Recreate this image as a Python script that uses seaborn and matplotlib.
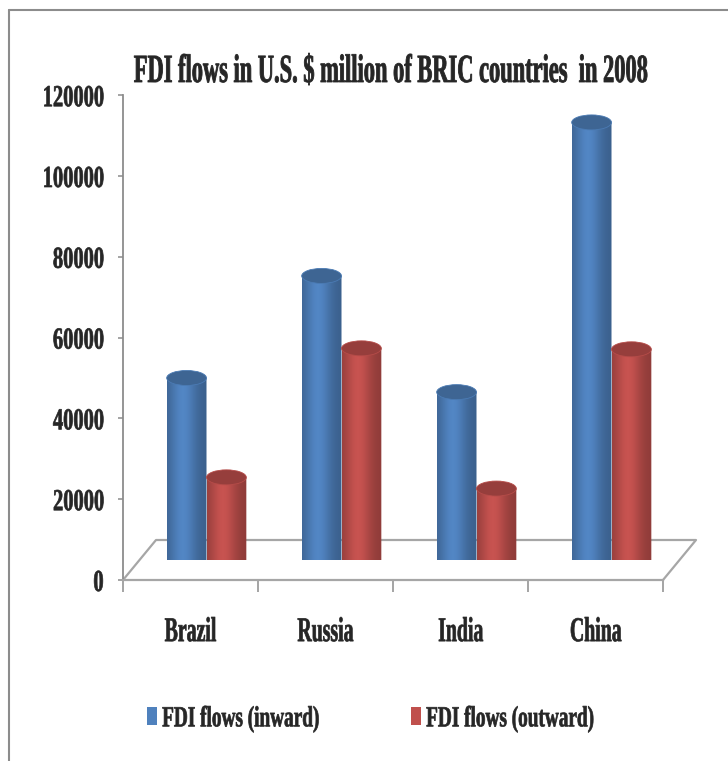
import numpy as np
import pandas as pd
import seaborn as sns
import matplotlib
matplotlib.use("Agg")
import matplotlib.pyplot as plt
from matplotlib import patheffects
from matplotlib.transforms import Affine2D
from matplotlib.patches import Ellipse, PathPatch, Patch
from matplotlib.path import Path
from matplotlib.lines import Line2D

# ---- data (US$ million, 2008) ----
countries = ["Brazil", "Russia", "India", "China"]
series = ["FDI flows (inward)", "FDI flows (outward)"]
inward = [45058, 70320, 41554, 108312]
outward = [20457, 52390, 17685, 52150]
y_ticks = [0, 20000, 40000, 60000, 80000, 100000, 120000]
title = "FDI flows in U.S. $ million of BRIC countries  in 2008"

BLUE = "#4F81BD"
RED = "#C0504D"
AXIS_GREY = "#8C8C8C"
FLOOR_GREY = "#A6A6A6"

df = pd.DataFrame({
    "country": countries * 2,
    "flow": [series[0]] * len(countries) + [series[1]] * len(countries),
    "value": inward + outward,
})

sns.set_theme(style="white")
plt.rcParams["font.family"] = ["Liberation Serif", "DejaVu Serif"]
plt.rcParams["font.weight"] = "bold"


class Squeeze(patheffects.AbstractPathEffect):
    """Draw text glyphs with a tall, condensed shape, slightly emboldened."""

    def __init__(self, sx, anchor="center", stroke=0.0, sy=1.0):
        super().__init__()
        self.sx = sx
        self.sy = sy
        self.anchor = anchor
        self.stroke = stroke

    def draw_path(self, renderer, gc, tpath, affine, rgbFace=None):
        ext = tpath.get_extents()
        x0 = {"left": ext.x0, "center": 0.5 * (ext.x0 + ext.x1), "right": ext.x1}[self.anchor]
        tr = Affine2D().translate(-x0, 0).scale(self.sx, self.sy).translate(x0, 0) + affine
        gc0 = renderer.new_gc()
        gc0.copy_properties(gc)
        if self.stroke and rgbFace is not None:
            gc0.set_linewidth(self.stroke)
            gc0.set_foreground(rgbFace)
            gc0.set_joinstyle("round")
        renderer.draw_path(gc0, tpath, tr, rgbFace)
        gc0.restore()


W, H = 728, 761
fig = plt.figure(figsize=(W / 100, H / 100), dpi=100)
fig.patch.set_facecolor("white")


def frame(left, top, right, bottom):
    return [left / W, 1 - bottom / H, (right - left) / W, (bottom - top) / H]


YMAX = 120000
PX_PER_UNIT = 80.8 / 20000          # vertical scale in pixels per US$ million
AX_H = YMAX * PX_PER_UNIT
DEPTH = (33, 40)                    # floor depth offset in pixels (x right, y up)
MID = (16, 20)                      # bars stand mid-way into the floor

# front axis: value scale, category ticks and the floor
ax_axis = fig.add_axes(frame(123, 580 - AX_H, 663, 580))
# bars sit slightly behind the front edge of the floor
ax = fig.add_axes(frame(123 + MID[0], 580 - MID[1] - AX_H, 663 + MID[0], 580 - MID[1]))

sns.barplot(data=df, x="country", y="value", hue="flow", order=countries,
            hue_order=series, palette=[BLUE, RED], saturation=1, width=0.59,
            legend=False, ax=ax)
ax.set_xlim(-0.5, len(countries) - 0.5)
ax.set_ylim(0, YMAX)

# turn flat bars into shaded cylinders
cap = 15 / PX_PER_UNIT
u = np.linspace(0, 1, 96)
shade = 0.74 + 0.30 * np.exp(-((u - 0.40) / 0.33) ** 2)
t = np.linspace(np.pi, 2 * np.pi, 60)
for bar in list(ax.patches):
    x0, w, h = bar.get_x(), bar.get_width(), bar.get_height()
    xc = x0 + w / 2
    base = np.array(bar.get_facecolor()[:3])
    bar.set_visible(False)

    verts = [(x0, h)] + list(zip(xc + w / 2 * np.cos(t), cap / 2 * np.sin(t))) + [(x0 + w, h), (x0, h)]
    body = PathPatch(Path(verts, closed=True), facecolor="none", edgecolor="none")
    ax.add_patch(body)
    body.set_clip_on(False)

    rgb = np.clip(np.outer(shade, base), 0, 1)[None, :, :]
    im = ax.imshow(rgb, extent=[x0, x0 + w, -cap, h], aspect="auto",
                   interpolation="bilinear", zorder=2)
    im.set_clip_box(None)
    im.set_clip_path(body)

    top = Ellipse((xc, h), w, cap, facecolor=base * 0.78,
                  edgecolor=np.clip(base * 0.95, 0, 1), linewidth=0.6, zorder=3)
    ax.add_patch(top)
    top.set_clip_on(False)

ax.set_xlim(-0.5, len(countries) - 0.5)
ax.set_ylim(0, YMAX)
ax.axis("off")

# value axis
ax_axis.set_xlim(-0.5, len(countries) - 0.5)
ax_axis.set_ylim(0, YMAX)
ax_axis.set_facecolor("none")
for side in ("top", "right"):
    ax_axis.spines[side].set_visible(False)
ax_axis.spines["left"].set_color(AXIS_GREY)
ax_axis.spines["left"].set_linewidth(1.3)
ax_axis.spines["bottom"].set_color(FLOOR_GREY)
ax_axis.spines["bottom"].set_linewidth(1.6)

ax_axis.set_yticks(y_ticks)
ax_axis.set_yticklabels([str(v) for v in y_ticks], fontsize=22, fontweight="bold",
                        path_effects=[Squeeze(0.67, "right", 0.5)])
ax_axis.tick_params(axis="y", left=True, length=3.8, width=1.1, color=AXIS_GREY, pad=10)

ax_axis.set_xticks(np.arange(len(countries) + 1) - 0.5)
ax_axis.set_xticklabels([])
ax_axis.set_xticks(np.arange(len(countries)), minor=True)
ax_axis.set_xticklabels(countries, minor=True, fontsize=25, fontweight="bold",
                        path_effects=[Squeeze(0.57, "center", 0.5)])
ax_axis.tick_params(axis="x", which="major", bottom=True, length=8.6, width=1.1,
                    color=AXIS_GREY)
ax_axis.tick_params(axis="x", which="minor", bottom=True, length=0, pad=26)

# floor outline (left, back and right edges)
dx, dy = DEPTH[0] / 540, DEPTH[1] / AX_H
floor = Line2D([0, dx, 1 + dx, 1], [0, dy, dy, 0], transform=ax_axis.transAxes,
               color=FLOOR_GREY, linewidth=1.6, clip_on=False, zorder=0)
ax_axis.add_line(floor)

# title: tall condensed lettering
fig.text(391 / W, 1 - 82 / H, title, ha="center", va="baseline", fontsize=17,
         fontweight="bold", path_effects=[Squeeze(0.95, "center", 0.6, sy=1.69)])

# legend, one entry each
fs_leg = 21
fs_px = fs_leg * 100 / 72
for name, color, xpx in zip(series, [BLUE, RED], [147, 411]):
    leg = fig.legend(handles=[Patch(facecolor=color, edgecolor="none", label=name)],
                     loc="center left", bbox_to_anchor=(xpx / W, 1 - 719 / H),
                     frameon=False, borderpad=0, borderaxespad=0,
                     handlelength=10 / fs_px, handleheight=18 / fs_px,
                     handletextpad=5 / fs_px, prop={"size": fs_leg, "weight": "bold"})
    for txt in leg.get_texts():
        txt.set_path_effects([Squeeze(0.66, "left", 0.5)])

# chart border
fig.add_artist(Line2D([9 / W, 9 / W], [0, 1 - 10 / H], transform=fig.transFigure,
                      color=AXIS_GREY, linewidth=1.5))
fig.add_artist(Line2D([9 / W, 1], [1 - 10 / H, 1 - 10 / H], transform=fig.transFigure,
                      color=AXIS_GREY, linewidth=1.5))

fig.savefig("out.png", dpi=100, facecolor="white")
